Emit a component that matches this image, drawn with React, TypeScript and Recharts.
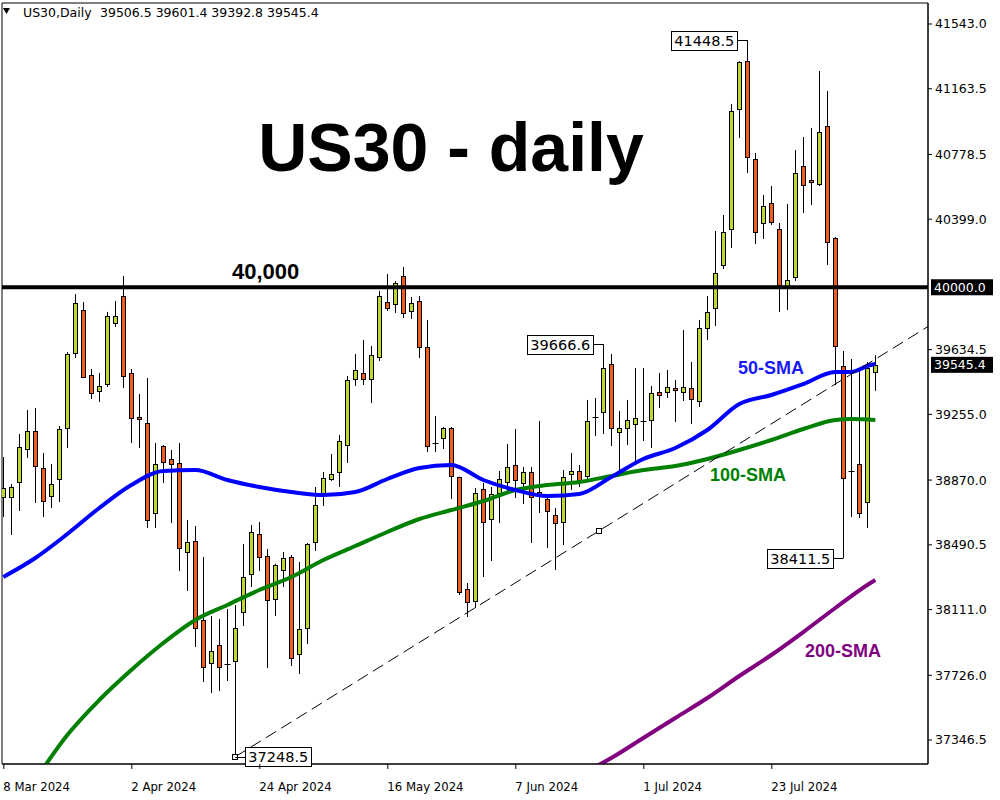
import React from 'react';
import {
  ComposedChart, Bar, Line, XAxis, YAxis, ReferenceLine, ReferenceDot, ReferenceArea,
} from 'recharts';

// ---------- data ----------
const opens = [
  38770.8, 38770.8, 38858.7, 39052.1, 39157.6, 38940.8, 38776.6, 38876.3, 39175.2, 39614.8,
  39866.8, 39485.8, 39392.0, 39433.1, 39790.6, 39948.8, 39497.5, 39239.7, 39204.5, 38677.0,
  39069.7, 38993.5, 38970.1, 38448.4, 38512.9, 38049.9, 37797.9, 37903.4, 37795.0, 37809.6,
  38096.8, 38319.5, 38553.9, 38425.0, 38173.0, 38342.9, 38419.1, 37850.6, 38003.0, 38507.0,
  38782.5, 38876.3, 38917.3, 39075.6, 39462.4, 39497.5, 39462.4, 39591.3, 39913.7, 39902.0,
  40066.1, 39860.9, 39919.5, 39649.9, 39085.0, 39116.6, 39175.2, 38888.0, 38231.6, 38161.2,
  38817.7, 38641.8, 38794.2, 38858.7, 38958.3, 38852.8, 38917.3, 38800.1, 38759.1, 38665.3,
  38624.3, 38905.6, 38923.2, 38893.9, 39239.7, 39269.0, 39550.3, 39151.7, 39175.2, 39198.6,
  39214.0, 39222.1, 39386.2, 39386.2, 39409.6, 39386.2, 39409.6, 39333.4, 39761.3, 39878.5,
  40130.5, 40341.5, 41044.9, 41326.2, 40751.8, 40376.7, 40493.9, 40341.5, 40001.6, 40060.2,
  40710.8, 40628.7, 40605.3, 40945.2, 40288.8, 39538.6, 38920.0, 38964.2, 38741.5, 39506.5,
];
const highs = [
  39005.2, 38847.0, 39140.0, 39280.7, 39292.4, 39028.7, 38964.2, 39186.9, 39620.6, 39960.6,
  39913.7, 39521.0, 39497.5, 39855.1, 39919.5, 40066.1, 39521.0, 39374.5, 39468.2, 39087.3,
  39075.6, 39046.2, 39087.3, 38636.0, 38600.8, 38419.1, 38073.3, 38055.7, 38114.4, 38137.8,
  38495.3, 38606.7, 38624.3, 38466.0, 38380.0, 38448.4, 38430.8, 38389.8, 38501.2, 38829.4,
  38917.3, 39022.8, 39134.2, 39480.0, 39608.9, 39691.0, 39655.8, 39978.1, 40077.8, 40036.8,
  40118.8, 39943.0, 39948.8, 39808.2, 39245.5, 39181.1, 39181.1, 38890.0, 38266.7, 38823.5,
  38852.8, 38829.4, 38923.2, 39081.4, 39169.3, 38946.6, 38946.6, 39216.2, 38782.5, 38706.3,
  38929.0, 39028.7, 38958.3, 39339.3, 39351.0, 39666.6, 39608.9, 39274.8, 39339.3, 39526.9,
  39526.9, 39421.4, 39497.5, 39515.1, 39456.5, 39749.6, 39562.0, 39808.2, 39948.8, 40329.8,
  40423.6, 41074.2, 41325.0, 41448.5, 40787.0, 40540.8, 40593.6, 40376.7, 40488.1, 40804.5,
  40880.7, 40933.5, 41267.6, 41150.3, 40295.0, 39626.5, 39579.6, 39521.0, 39562.0, 39601.4,
];
const lows = [
  38653.6, 38548.1, 38688.7, 38999.4, 38735.6, 38653.6, 38706.3, 38741.5, 39058.0, 39585.5,
  39468.2, 39345.2, 39327.6, 39415.5, 39767.2, 39409.6, 39087.3, 39058.0, 38589.1, 38589.1,
  38852.8, 38618.4, 38337.1, 38219.9, 37891.6, 37686.5, 37622.0, 37633.8, 37692.4, 37248.5,
  38014.7, 38243.3, 38337.1, 37768.6, 38073.3, 38243.3, 37780.3, 37733.4, 37909.2, 38454.3,
  38718.0, 38864.6, 38829.4, 38970.1, 39421.4, 39427.2, 39321.7, 39567.9, 39860.9, 39849.2,
  39819.9, 39814.0, 39585.5, 39034.5, 39034.5, 39052.1, 38759.1, 38196.4, 38067.5, 38120.2,
  38301.9, 38395.7, 38618.4, 38800.1, 38764.9, 38729.8, 38501.2, 38677.0, 38471.9, 38342.9,
  38489.5, 38811.8, 38829.4, 38870.4, 39128.3, 39140.0, 39069.7, 38929.0, 39075.6, 38975.9,
  39099.0, 39058.0, 39292.4, 39351.0, 39210.4, 39333.4, 39198.6, 39298.3, 39691.0, 39773.0,
  40107.1, 40230.2, 40874.9, 40669.7, 40253.6, 40282.9, 40365.0, 39855.1, 39866.8, 40036.8,
  40435.3, 40482.2, 40593.6, 40130.5, 39427.2, 38411.5, 38653.6, 38647.7, 38589.1, 39392.8,
];
const closes = [
  38823.5, 38829.4, 39063.8, 39157.6, 38952.5, 38747.3, 38847.0, 39169.3, 39608.9, 39907.8,
  39474.1, 39380.3, 39421.4, 39831.6, 39831.6, 39480.0, 39233.8, 39227.9, 38636.0, 38964.2,
  38975.9, 38964.2, 38471.9, 38507.0, 38003.0, 37774.4, 37868.2, 37774.4, 37790.0, 38003.0,
  38301.9, 38565.6, 38419.1, 38167.1, 38372.2, 38413.3, 37827.2, 37997.1, 38495.3, 38723.9,
  38882.1, 38905.6, 39099.0, 39456.5, 39515.1, 39462.4, 39603.0, 39948.8, 39878.5, 40025.0,
  39849.2, 39907.8, 39649.9, 39069.7, 39089.0, 39175.2, 38893.9, 38214.0, 38155.4, 38794.2,
  38624.3, 38788.4, 38876.3, 38946.6, 38870.4, 38917.3, 38770.8, 38788.4, 38688.7, 38618.4,
  38888.0, 38923.2, 38864.6, 39216.2, 39233.8, 39526.9, 39175.2, 39175.2, 39222.1, 39233.8,
  39218.0, 39380.3, 39368.6, 39415.5, 39397.9, 39415.5, 39345.2, 39761.3, 39855.1, 40083.6,
  40323.9, 41033.1, 41320.3, 40763.5, 40323.9, 40476.3, 40382.6, 40013.3, 40042.6, 40669.7,
  40599.4, 40617.0, 40910.0, 40265.3, 39655.8, 38882.1, 38926.0, 38677.0, 39526.9, 39545.4,
];

const dateTickIdx = [0, 16, 32, 48, 64, 80, 96];
const dateTickLabels = ['8 Mar 2024', '2 Apr 2024', '24 Apr 2024', '16 May 2024', '7 Jun 2024', '1 Jul 2024', '23 Jul 2024'];
const priceTicks = [37346.5, 37726.0, 38111.0, 38490.5, 38870.0, 39255.0, 39634.5, 40399.0, 40778.5, 41163.5, 41543.0];

const sma50Idx = [0, 4, 8, 12, 16, 20, 24, 28, 32, 36, 40, 44, 48, 52, 56, 60, 64, 68, 72, 76, 80, 84, 88, 92, 96, 100, 104, 106, 108, 109];
const sma50Val = [38301.9, 38413.3, 38553.9, 38706.3, 38841.1, 38923.2, 38929.0, 38870.4, 38829.4, 38800.1, 38782.5, 38800.1, 38876.3, 38940.8, 38958.3, 38870.4, 38811.8, 38776.6, 38788.4, 38888.0, 38993.5, 39058.0, 39163.5, 39315.9, 39368.6, 39433.1, 39503.4, 39503.4, 39538.6, 39550.3];

const sma100Idx = [4, 8, 12, 16, 20, 24, 28, 32, 36, 40, 44, 48, 52, 56, 60, 64, 68, 72, 76, 80, 84, 88, 92, 96, 100, 104, 106, 109];
const sma100Val = [37112.1, 37375.9, 37581.0, 37756.8, 37915.0, 38049.9, 38137.8, 38225.7, 38301.9, 38401.5, 38483.6, 38565.6, 38641.8, 38694.6, 38747.3, 38811.8, 38841.1, 38858.7, 38893.9, 38929.0, 38952.5, 38993.5, 39046.2, 39104.9, 39169.3, 39222.1, 39227.9, 39222.1];

const sma200Idx = [72, 76, 80, 84, 88, 92, 96, 100, 104, 108, 109];
const sma200Val = [37141.4, 37241.0, 37358.2, 37475.5, 37592.7, 37721.6, 37844.7, 37979.5, 38120.2, 38255.0, 38284.3];

const trendX = [29, 74.5, 115.59];
const trendY = [37248.5, 38573.3, 39770.0];

const LEVEL = 40000;
const LAST_PRICE = 39545.4;

// ---------- derived tables ----------
const candles = opens.map((o, i) => ({ i, open: o, high: highs[i], low: lows[i], close: closes[i] }));
const sma50 = sma50Idx.map((i, k) => ({ i, v: sma50Val[k] }));
const sma100 = sma100Idx.map((i, k) => ({ i, v: sma100Val[k] }));
const sma200 = sma200Idx.map((i, k) => ({ i, v: sma200Val[k] }));

const X_DOMAIN: [number, number] = [-0.1625, 115.5875];
const Y_DOMAIN: [number, number] = [37206, 41666];

const BULL = '#c2d630';
const BEAR = '#f25c1e';
const AXIS_FONT = 'Tahoma, "DejaVu Sans", sans-serif';
const BOLD_FONT = '"Liberation Sans", Arial, sans-serif';

const Candle = (props: any) => {
  const { x, y, width, height, payload } = props;
  if (x == null || y == null) return null;
  const { open, close, high, low } = payload;
  const top = Math.min(y, y + height);
  const bot = Math.max(y, y + height);
  const span = high - low;
  const toY = (v: number) => (span === 0 ? top : top + ((high - v) / span) * (bot - top));
  const cx = Math.round(x + width / 2) + 0.5;
  const yo = toY(open);
  const yc = toY(close);
  const bTop = Math.min(yo, yc);
  const bBot = Math.max(yo, yc);
  const bull = close >= open;
  return (
    <g>
      <line x1={cx} x2={cx} y1={top} y2={bot} stroke="#000" strokeWidth={1} />
      {bBot - bTop < 1.5 ? (
        <line x1={cx - 3} x2={cx + 3} y1={Math.round(bTop) + 0.5} y2={Math.round(bTop) + 0.5} stroke="#000" strokeWidth={1} />
      ) : (
        <rect x={cx - 2} y={Math.round(bTop) + 0.5} width={4} height={Math.max(1, Math.round(bBot - bTop))} fill={bull ? BULL : BEAR} stroke="#000" strokeWidth={1} />
      )}
    </g>
  );
};

const DateTick = (props: any) => {
  const { x, y, payload } = props;
  const k = dateTickIdx.indexOf(payload.value);
  return (
    <g>
      <line x1={x + 0.5} x2={x + 0.5} y1={y - 8} y2={y - 3} stroke="#000" />
      <text x={x} y={y + 19} textAnchor="start" fontFamily='"DejaVu Sans Condensed", "Liberation Sans Narrow", sans-serif' fontSize={13} fill="#000">
        {k >= 0 ? dateTickLabels[k] : ''}
      </text>
    </g>
  );
};

const AxisBox = (text: string) => (props: any) => {
  const vb = props.viewBox || {};
  const x0 = vb.x + vb.width + 3;
  const yc = vb.y;
  return (
    <g>
      <rect x={x0} y={yc - 8} width={62} height={16} fill="#000" />
      <text x={x0 + 3} y={yc + 4.5} fontFamily={AXIS_FONT} fontSize={12.5} fill="#fff">{text}</text>
    </g>
  );
};

const PriceBox = (text: string, side: 'left' | 'right') => (props: any) => {
  const { cx, cy } = props;
  if (cx == null || cy == null) return null;
  const w = 66;
  const h = 19;
  const gap = 10;
  const bx = side === 'left' ? cx - gap - w : cx + gap;
  const lineX1 = side === 'left' ? bx + w : cx;
  const lineX2 = side === 'left' ? cx : bx;
  const yy = Math.round(cy) + 0.5;
  return (
    <g>
      <line x1={lineX1} x2={lineX2} y1={yy} y2={yy} stroke="#000" strokeWidth={1} />
      <rect x={Math.round(bx) + 0.5} y={Math.round(cy - h / 2) + 0.5} width={w} height={h} fill="#fff" stroke="#000" strokeWidth={1} />
      <text x={bx + w / 2} y={cy + 5.5} textAnchor="middle" fontFamily={AXIS_FONT} fontSize={14.5} fill="#000">{text}</text>
    </g>
  );
};

const Anchor = (props: any) => {
  const { cx, cy } = props;
  if (cx == null) return null;
  return <rect x={Math.round(cx) - 2.5} y={Math.round(cy) - 2.5} width={5} height={5} fill="#fff" stroke="#000" strokeWidth={1} />;
};

export default function App() {
  return (
    <div style={{ position: 'absolute', left: 0, top: 0, width: 1000, height: 800, background: '#fff' }}>
      <ComposedChart width={1000} height={800} data={candles} margin={{ top: 3, left: 2, right: 0, bottom: 0 }}>
        <XAxis
          dataKey="i"
          type="number"
          domain={X_DOMAIN}
          allowDataOverflow
          ticks={dateTickIdx}
          interval={0}
          height={36}
          tickLine={false}
          axisLine={{ stroke: '#000' }}
          tick={<DateTick />}
        />
        <YAxis
          orientation="right"
          type="number"
          domain={Y_DOMAIN}
          allowDataOverflow
          ticks={priceTicks}
          interval={0}
          width={72}
          tickSize={4}
          tickMargin={3}
          tickLine={{ stroke: '#000' }}
          axisLine={{ stroke: '#000' }}
          tickFormatter={(v: number) => v.toFixed(1)}
          tick={{ fill: '#000', fontSize: 12.5, fontFamily: AXIS_FONT, textAnchor: 'start' }}
        />
        <ReferenceArea x1={X_DOMAIN[0]} x2={X_DOMAIN[1]} y1={Y_DOMAIN[0]} y2={Y_DOMAIN[1]} fill="none" stroke="#000" strokeWidth={1} fillOpacity={0} />
        <Line data={sma200} dataKey="v" type="monotone" stroke="#800080" strokeWidth={4} dot={false} isAnimationActive={false} />
        <Line data={sma100} dataKey="v" type="monotone" stroke="#008000" strokeWidth={4} dot={false} isAnimationActive={false} />
        <Line data={sma50} dataKey="v" type="monotone" stroke="#0000ff" strokeWidth={4} dot={false} isAnimationActive={false} />
        <ReferenceLine
          segment={[{ x: trendX[0], y: trendY[0] }, { x: trendX[2], y: trendY[2] }]}
          stroke="#000"
          strokeWidth={1}
          strokeDasharray="12 6"
          ifOverflow="hidden"
        />
        <ReferenceLine y={LEVEL} stroke="#000" strokeWidth={4} label={AxisBox('40000.0')} />
        <ReferenceLine y={LAST_PRICE} stroke="none" strokeWidth={0} label={AxisBox('39545.4')} />
        <Bar dataKey={(d: any) => [d.low, d.high]} shape={<Candle />} barSize={6} isAnimationActive={false} />
        <ReferenceDot x={trendX[0]} y={trendY[0]} r={3} shape={<Anchor />} />
        <ReferenceDot x={trendX[1]} y={trendY[1]} r={3} shape={<Anchor />} />
        <ReferenceDot x={93} y={highs[93]} r={0} shape={PriceBox('41448.5', 'left')} />
        <ReferenceDot x={75} y={highs[75]} r={0} shape={PriceBox('39666.6', 'left')} />
        <ReferenceDot x={105} y={lows[105]} r={0} shape={PriceBox('38411.5', 'left')} />
        <ReferenceDot x={29} y={lows[29]} r={0} shape={PriceBox('37248.5', 'right')} />
      </ComposedChart>
      <svg width={1000} height={800} style={{ position: 'absolute', left: 0, top: 0, pointerEvents: 'none' }}>
        <polygon points="3,8 10,8 6.5,14" fill="#000" />
        <text x={23} y={17} fontFamily={AXIS_FONT} fontSize={12.5} fill="#000">US30,Daily</text>
        <text x={100} y={17} fontFamily={AXIS_FONT} fontSize={12.5} fill="#000">39506.5 39601.4 39392.8 39545.4</text>
        <text x={451} y={171} textAnchor="middle" fontFamily={BOLD_FONT} fontWeight="bold" fontSize={68} fill="#000">US30 - daily</text>
        <text x={232} y={279} fontFamily={BOLD_FONT} fontWeight="bold" fontSize={22} fill="#000">40,000</text>
        <text x={738} y={374} fontFamily={BOLD_FONT} fontWeight="bold" fontSize={18} fill="#1a1aff">50-SMA</text>
        <text x={710} y={481} fontFamily={BOLD_FONT} fontWeight="bold" fontSize={18} fill="#008000">100-SMA</text>
        <text x={805} y={657} fontFamily={BOLD_FONT} fontWeight="bold" fontSize={18} fill="#800080">200-SMA</text>
      </svg>
    </div>
  );
}
